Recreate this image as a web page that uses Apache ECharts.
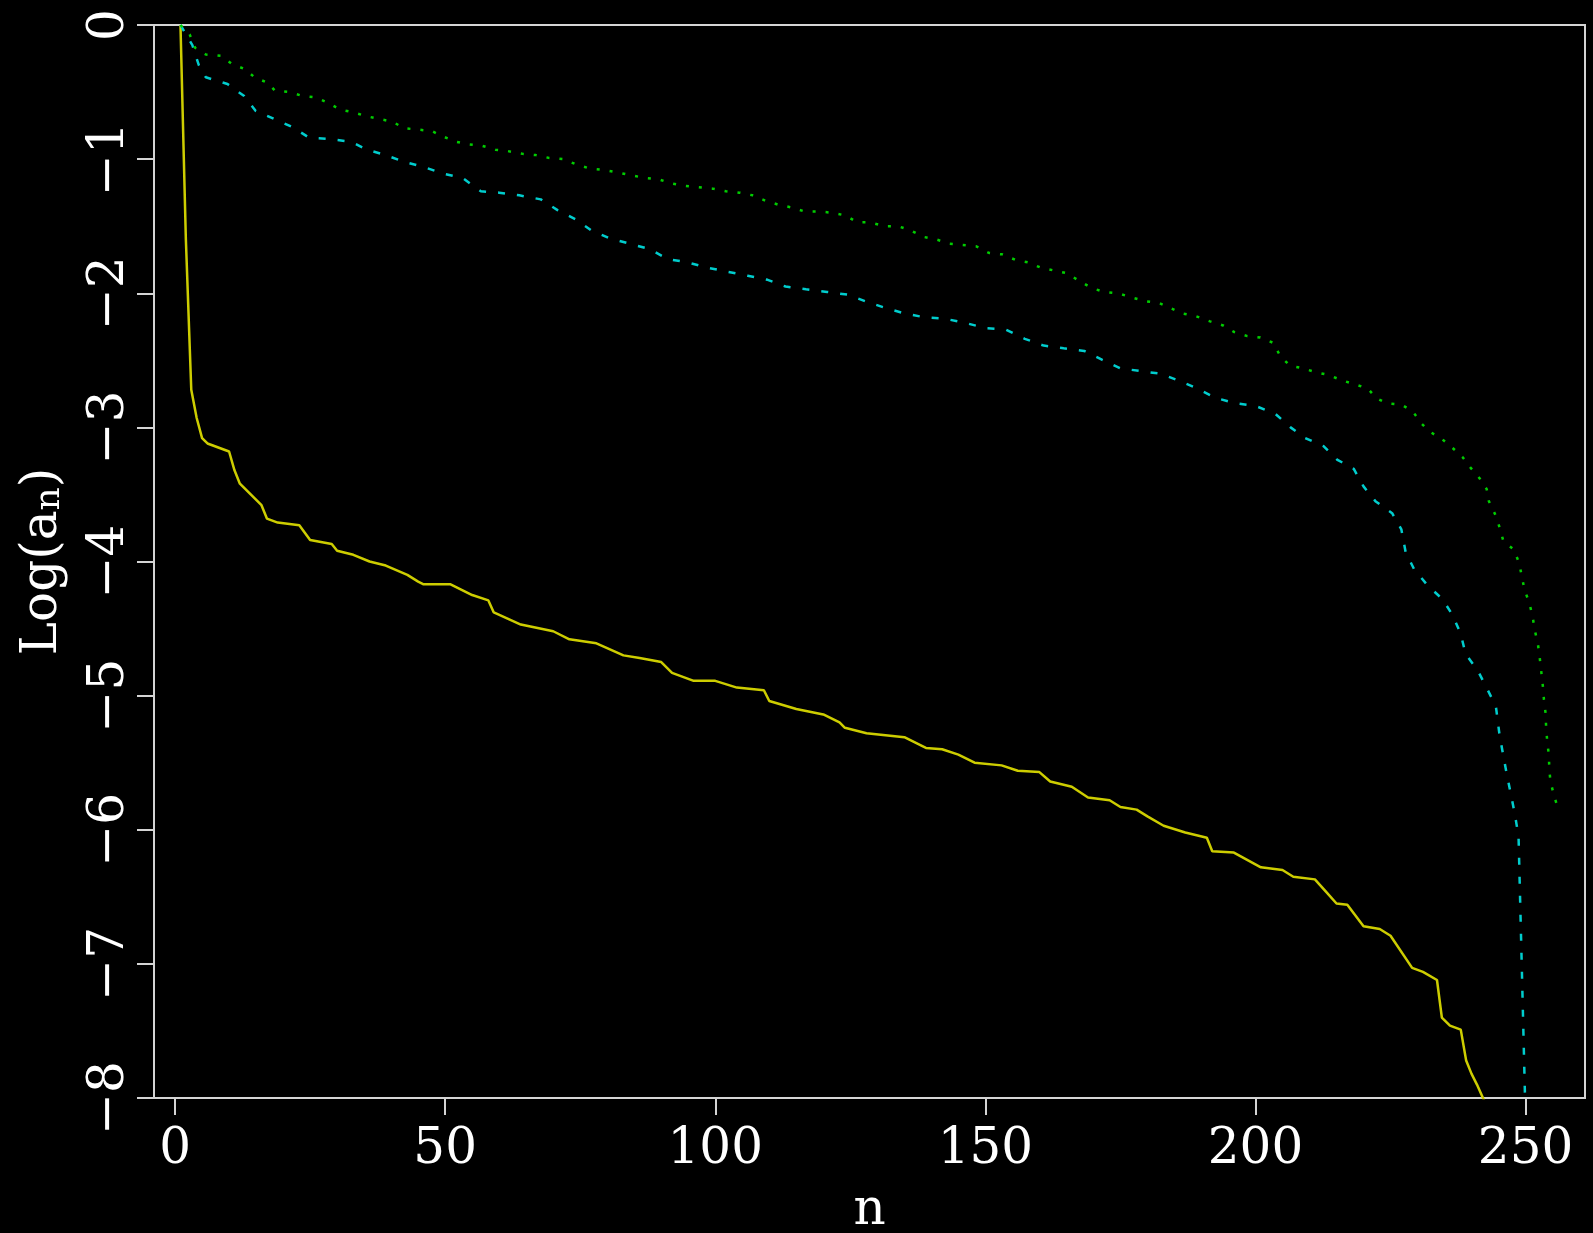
<!DOCTYPE html>
<html>
<head>
<meta charset="utf-8">
<script src="https://cdn.jsdelivr.net/npm/echarts@6/dist/echarts.min.js"></script>
<style>
  html, body { margin: 0; padding: 0; background: #000; }
  #chart { width: 1593px; height: 1233px; }
</style>
</head>
<body>
<div id="chart"></div>
<script>
// ---- data ----
const xTicks = [0, 50, 100, 150, 200, 250];
const xTickLabels = ['0', '50', '100', '150', '200', '250'];
const yTicks = [-8, -7, -6, -5, -4, -3, -2, -1, 0];
const yTickLabels = ['\u22128', '\u22127', '\u22126', '\u22125', '\u22124', '\u22123', '\u22122', '\u22121', '0'];

// yellow, solid
const nYellow = [1, 2, 3, 4, 5, 6, 10, 11, 12, 16, 17, 19, 23, 25, 29, 30, 33, 36, 39, 43, 45, 46, 51, 55, 58, 59, 64, 70, 73, 78, 83, 86, 90, 92, 96, 100, 104, 109, 110, 115, 120, 123, 124, 128, 135, 139, 142, 145, 148, 153, 156, 160, 162, 166, 169, 173, 175, 178, 180, 183, 187, 191, 192, 196, 201, 205, 207, 211, 213, 215, 217, 220, 223, 225, 229, 231, 233.6, 234.5, 236, 238, 239, 240, 241, 243];
const logYellow = [0, -1.6, -2.72, -2.93, -3.08, -3.12, -3.18, -3.32, -3.42, -3.58, -3.68, -3.71, -3.73, -3.84, -3.87, -3.92, -3.95, -4.0, -4.03, -4.1, -4.15, -4.17, -4.17, -4.25, -4.29, -4.38, -4.47, -4.52, -4.58, -4.61, -4.7, -4.72, -4.75, -4.83, -4.89, -4.89, -4.94, -4.96, -5.04, -5.1, -5.14, -5.2, -5.24, -5.28, -5.31, -5.39, -5.4, -5.44, -5.5, -5.52, -5.56, -5.57, -5.64, -5.68, -5.76, -5.78, -5.83, -5.85, -5.9, -5.97, -6.02, -6.06, -6.16, -6.17, -6.28, -6.3, -6.35, -6.37, -6.46, -6.55, -6.56, -6.72, -6.74, -6.79, -7.03, -7.06, -7.12, -7.4, -7.46, -7.49, -7.72, -7.82, -7.9, -8.08];

// cyan, dashed
const nCyan = [1, 3.2, 4.4, 5.7, 9.7, 12.8, 14.9, 18.3, 21.7, 24.8, 28.5, 32.5, 35.6, 39, 42.4, 46.1, 49.8, 53.2, 56.6, 60, 63.7, 67.7, 70.8, 74.2, 77, 80.4, 84.1, 87.8, 91.2, 94.9, 98.6, 102.3, 106, 109.7, 113, 116.8, 120.7, 124.4, 127.8, 131.5, 135, 138.8, 142.5, 146.2, 150, 153.7, 157.3, 160.8, 164.5, 168.3, 171.3, 175, 178.7, 182.4, 185.7, 189.2, 192.6, 196.3, 200, 203.7, 206.5, 209.2, 212.6, 215.1, 218.2, 220, 222.2, 225.3, 227, 227.8, 229.4, 231.9, 234.6, 236.5, 238, 238.9, 241.1, 242.9, 244.5, 245.2, 246.4, 247.1, 248, 248.7, 249.9, 250.1];
const logCyan = [0, -0.15, -0.3, -0.39, -0.44, -0.53, -0.64, -0.7, -0.76, -0.84, -0.85, -0.87, -0.93, -0.97, -1.02, -1.06, -1.11, -1.14, -1.24, -1.25, -1.27, -1.3, -1.38, -1.45, -1.53, -1.59, -1.63, -1.67, -1.745, -1.77, -1.81, -1.84, -1.87, -1.9, -1.95, -1.97, -1.99, -2.01, -2.06, -2.11, -2.15, -2.18, -2.19, -2.22, -2.26, -2.27, -2.34, -2.39, -2.41, -2.43, -2.49, -2.56, -2.58, -2.6, -2.65, -2.71, -2.78, -2.82, -2.84, -2.9, -3.0, -3.08, -3.14, -3.24, -3.31, -3.44, -3.55, -3.64, -3.76, -3.93, -4.06, -4.18, -4.28, -4.4, -4.54, -4.69, -4.81, -4.95, -5.08, -5.3, -5.56, -5.7, -5.88, -6.05, -8.0, -8.3];

// green, dotted
const nGreen = [1, 2.7, 3.7, 5.7, 8.5, 10.5, 13, 14.7, 17.1, 18.5, 21.2, 23.7, 26, 28.3, 30.5, 32.9, 35.4, 37.7, 40.2, 42.4, 45, 47.5, 49.5, 52, 54.4, 56.8, 59.3, 61.6, 64.3, 66.8, 69.1, 71.9, 74.3, 76.8, 79.3, 82, 84.4, 86.9, 89.5, 91.7, 94.4, 96.9, 99.5, 102, 104.5, 106.9, 109.3, 111.7, 114.1, 116.5, 119.1, 121.7, 124.1, 126.2, 128.6, 131.3, 133.8, 136.1, 138.6, 141, 143.4, 145.8, 148.3, 150.7, 153.1, 155.5, 157.9, 160.3, 162.7, 165, 167.5, 169.6, 172, 174.5, 177, 179.6, 182, 184.2, 186.4, 188.9, 191.6, 194, 196.1, 198.5, 200.9, 203.3, 204.6, 206.4, 208.8, 211.3, 213.6, 216, 218.5, 220.8, 222.3, 224.3, 227, 229.1, 230.7, 232.2, 234.6, 236.4, 238.3, 239.8, 241.5, 242.8, 243.2, 244.5, 245.3, 245.9, 247.8, 248.8, 249.3, 249.8, 250.7, 251.3, 251.7, 252.3, 252.6, 252.9, 253.2, 253.4, 253.7, 253.8, 254, 254.3, 254.4, 254.6, 255.3, 256];
const logGreen = [0, -0.07, -0.17, -0.22, -0.23, -0.29, -0.33, -0.39, -0.43, -0.49, -0.5, -0.53, -0.54, -0.58, -0.63, -0.65, -0.68, -0.7, -0.72, -0.77, -0.78, -0.79, -0.83, -0.87, -0.89, -0.9, -0.93, -0.94, -0.96, -0.97, -0.99, -1.0, -1.04, -1.07, -1.08, -1.1, -1.12, -1.14, -1.15, -1.18, -1.2, -1.21, -1.22, -1.24, -1.25, -1.27, -1.31, -1.34, -1.36, -1.39, -1.39, -1.4, -1.42, -1.47, -1.47, -1.5, -1.5, -1.53, -1.58, -1.6, -1.63, -1.64, -1.65, -1.7, -1.71, -1.75, -1.77, -1.81, -1.83, -1.85, -1.91, -1.96, -1.99, -2.0, -2.03, -2.06, -2.07, -2.11, -2.15, -2.17, -2.21, -2.24, -2.29, -2.32, -2.33, -2.37, -2.47, -2.54, -2.56, -2.59, -2.61, -2.65, -2.68, -2.71, -2.78, -2.82, -2.83, -2.88, -2.97, -3.03, -3.09, -3.15, -3.22, -3.3, -3.38, -3.46, -3.55, -3.66, -3.76, -3.85, -3.91, -4.01, -4.11, -4.21, -4.31, -4.41, -4.51, -4.62, -4.71, -4.82, -4.93, -5.03, -5.13, -5.23, -5.34, -5.44, -5.55, -5.64, -5.75, -5.84];

const zip = (xs, ys) => xs.map((x, i) => [x, ys[i]]);

const FONT = 'DejaVu Serif';
const AXIS_COLOR = '#D4D4D4';
const TEXT_COLOR = '#FFFFFF';

const chart = echarts.init(document.getElementById('chart'), null, { renderer: 'canvas' });
chart.setOption({
  backgroundColor: '#000000',
  animation: false,
  grid: {
    left: 154, right: 8, top: 25, bottom: 135,
    containLabel: false,
    outerBoundsMode: 'none',
    show: true, borderColor: AXIS_COLOR, borderWidth: 2,
    backgroundColor: 'transparent'
  },
  xAxis: {
    type: 'value',
    min: -3.9, max: 261,
    axisLine: { show: true, onZero: false, lineStyle: { color: AXIS_COLOR, width: 2 } },
    axisTick: { show: true, inside: false, length: 17, lineStyle: { color: AXIS_COLOR, width: 2 }, customValues: xTicks },
    axisLabel: {
      customValues: xTicks,
      formatter: v => xTickLabels[xTicks.indexOf(v)],
      color: TEXT_COLOR, fontFamily: FONT, fontSize: 50, margin: 27
    },
    splitLine: { show: false },
    name: 'n',
    nameLocation: 'middle',
    nameGap: 88,
    nameTextStyle: { color: TEXT_COLOR, fontFamily: FONT, fontSize: 50, verticalAlign: 'top' }
  },
  yAxis: {
    type: 'value',
    min: -8, max: 0, interval: 1,
    axisLine: { show: true, onZero: false, lineStyle: { color: AXIS_COLOR, width: 2 } },
    axisTick: { show: true, inside: false, length: 17, lineStyle: { color: AXIS_COLOR, width: 2 } },
    axisLabel: {
      rotate: 90,
      formatter: v => yTickLabels[yTicks.indexOf(v)],
      color: TEXT_COLOR, fontFamily: FONT, fontSize: 50, margin: 19
    },
    splitLine: { show: false },
    name: '{m|Log(a}{s|n}{m|)}',
    nameLocation: 'middle',
    nameRotate: 90,
    nameGap: 86,
    nameTextStyle: {
      color: TEXT_COLOR, fontFamily: FONT, fontSize: 50,
      rich: {
        m: { color: TEXT_COLOR, fontFamily: FONT, fontSize: 50, lineHeight: 50, verticalAlign: 'top' },
        s: { color: TEXT_COLOR, fontFamily: FONT, fontSize: 36, lineHeight: 36, padding: [38, 0, 0, 0], verticalAlign: 'bottom' }
      }
    }
  },
  series: [
    {
      type: 'line', data: zip(nYellow, logYellow), showSymbol: false, clip: true,
      lineStyle: { color: '#CDCD00', width: 2.5, type: 'solid' }
    },
    {
      type: 'line', data: zip(nCyan, logCyan), showSymbol: false, clip: true,
      lineStyle: { color: '#00CDCD', width: 2.5, type: [7, 12] }
    },
    {
      type: 'line', data: zip(nGreen, logGreen), showSymbol: false, clip: true,
      lineStyle: { color: '#00CD00', width: 2.5, type: [3, 10] }
    }
  ]
});
</script>
</body>
</html>
